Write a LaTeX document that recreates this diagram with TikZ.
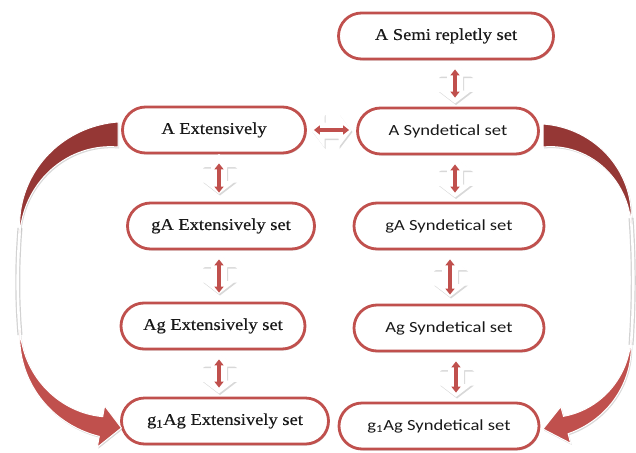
\documentclass[tikz,border=0pt]{standalone}
\usepackage{fontspec}
\usetikzlibrary{arrows.meta,shadows,calc}
\newfontfamily\serfont[FakeStretch=1.12,FakeBold=0.4]{Liberation Serif}
\newfontfamily\sanfont[FakeStretch=1.2]{Carlito}
\definecolor{nodered}{HTML}{C0504D}
\definecolor{darkred}{HTML}{953735}
\begin{document}
\begin{tikzpicture}[x=1pt,y=-1pt,
  softshadow/.style={drop shadow={shadow xshift=1pt,shadow yshift=-1.5pt,opacity=0.25,fill=black!60}},
  setbox/.style={draw=nodered, line width=2.8pt, fill=white, rounded corners=23pt,
    minimum height=46pt, inner sep=0pt, text=black!90, softshadow},
  serbox/.style={setbox, font=\serfont\fontsize{16.5}{18}\selectfont},
  sanbox/.style={setbox, font=\sanfont\fontsize{15.5}{18}\selectfont},
  dblarrow/.style={draw=nodered, line width=3.2pt,
    {Triangle[width=9pt,length=6pt]}-{Triangle[width=9pt,length=6pt]},
    shorten <=9pt, shorten >=9pt},
  blockfill/.style={fill=white, drop shadow={shadow xshift=1pt,shadow yshift=-1.5pt,opacity=0.3,fill=black!50}},
  piece/.style={draw=white, line width=1pt, softshadow},
  shline/.style={draw=black!35, line width=5pt, opacity=.5},
  whline/.style={draw=white, line width=2.6pt},
  vblock/.pic={\path[blockfill] (0,-20) -- (17,-7) -- (8,-7) -- (8,7) -- (17,7) -- (0,20)
      -- (-17,7) -- (-8,7) -- (-8,-7) -- (-17,-7) -- cycle;}
]
\useasboundingbox (0,0) rectangle (636,452);
\fill[white] (0,0) rectangle (636,452);

% nodes
\node[serbox, minimum width=215pt] (n1) at (446,36) {A Semi repletly set};
\node[serbox, minimum width=183pt] (n2) at (214,130) {A Extensively};
\node[sanbox, minimum width=181pt] (n3) at (448,131) {A Syndetical set};
\node[serbox, minimum width=187pt] (n4) at (221,226) {gA Extensively set};
\node[sanbox, minimum width=190pt] (n5) at (449,226) {gA Syndetical set};
\node[serbox, minimum width=184pt] (n6) at (213,326) {Ag Extensively set};
\node[sanbox, minimum width=190pt] (n7) at (449,328) {Ag Syndetical set};
\node[serbox, minimum width=207pt] (n8) at (225,421) {g\textsubscript{1}Ag Extensively set};
\node[sanbox, minimum width=200pt] (n9) at (439,426) {g\textsubscript{1}Ag Syndetical set};

% double arrows between nodes
\coordinate (m13) at ($(n1.south)!.5!(n3.north)+(8,0)$);
\coordinate (m35) at ($(n3.south)!.5!(n5.north)+(6.5,-1)$);
\coordinate (m57) at ($(n5.south)!.5!(n7.north)+(1,0)$);
\coordinate (m79) at ($(n7.south)!.5!(n9.north)+(12,0)$);
\coordinate (m24) at ($(n2.south)!.5!(n4.north)+(1.5,-4)$);
\coordinate (m46) at ($(n4.south)!.5!(n6.north)+(2,-2)$);
\coordinate (m68) at ($(n6.south)!.5!(n8.north)+(0,0)$);
\coordinate (m23) at ($(n2.east)!.5!(n3.west)$);

\foreach \m in {m13,m35,m57,m79,m24,m46,m68} {\pic at (\m) {vblock};}
\pic[rotate=90] at (m23) {vblock};

\draw[dblarrow] (n1.south -| m13) -- (n3.north -| m13);
\draw[dblarrow] (n3.south -| m35) -- (n5.north -| m35);
\draw[dblarrow] (n5.south -| m57) -- (n7.north -| m57);
\draw[dblarrow] (n7.south -| m79) -- (n9.north -| m79);
\draw[dblarrow] (n2.south -| m24) -- (n4.north -| m24);
\draw[dblarrow] (n4.south -| m46) -- (n6.north -| m46);
\draw[dblarrow] (n6.south -| m68) -- (n8.north -| m68);
\draw[dblarrow, shorten <=7pt, shorten >=7pt] (n2.east) -- (n2.east -| n3.west);

% big curved arrows: middle white outlines
\draw[shline] (20,228) .. controls (17,265) and (17,300) .. (20,335);
\draw[whline] (20,228) .. controls (17,265) and (17,300) .. (20,335);
\draw[shline] (631,218) .. controls (634,260) and (634,300) .. (631,345);
\draw[whline] (631,218) .. controls (634,260) and (634,300) .. (631,345);

% left top piece
\fill[darkred, piece]
  plot[domain=270:180, samples=40, variable=\t]
    ({118+(98+13*(\t-180)/90)*cos(\t)}, {233+(98+13*(\t-180)/90)*sin(\t)})
  -- plot[domain=180:270, samples=40, variable=\t]
    ({118+(98-12*(\t-180)/90)*cos(\t)}, {233+(98-12*(\t-180)/90)*sin(\t)}) -- cycle;
% left bottom piece
\fill[nodered, piece]
  plot[domain=180:100, samples=40, variable=\t]
    ({118+(98+10*(180-\t)/80)*cos(\t)}, {330+(98+10*(180-\t)/80)*sin(\t)})
  -- ({118+119*cos(100)}, {330+119*sin(100)})
  -- ({118+98*cos(88)}, {330+98*sin(88)})
  -- ({118+77*cos(100)}, {330+77*sin(100)})
  -- plot[domain=100:180, samples=40, variable=\t]
    ({118+(98-10*(180-\t)/80)*cos(\t)}, {330+(98-10*(180-\t)/80)*sin(\t)}) -- cycle;
% right top piece
\fill[darkred, piece]
  plot[domain=270:360, samples=40, variable=\t]
    ({543+(88+11*(360-\t)/90)*cos(\t)}, {223+(88+11*(360-\t)/90)*sin(\t)})
  -- plot[domain=360:270, samples=40, variable=\t]
    ({543+(88-12*(360-\t)/90)*cos(\t)}, {223+(88-12*(360-\t)/90)*sin(\t)}) -- cycle;
% right bottom piece
\fill[nodered, piece]
  plot[domain=0:75, samples=40, variable=\t]
    ({543+(88+9*\t/75)*cos(\t)}, {340+(88+9*\t/75)*sin(\t)})
  -- ({543+107*cos(75)}, {340+107*sin(75)})
  -- ({543+89*cos(90)}, {340+89*sin(90)})
  -- ({543+69*cos(75)}, {340+69*sin(75)})
  -- plot[domain=75:0, samples=40, variable=\t]
    ({543+(88-9*\t/75)*cos(\t)}, {340+(88-9*\t/75)*sin(\t)}) -- cycle;
\end{tikzpicture}
\end{document}
